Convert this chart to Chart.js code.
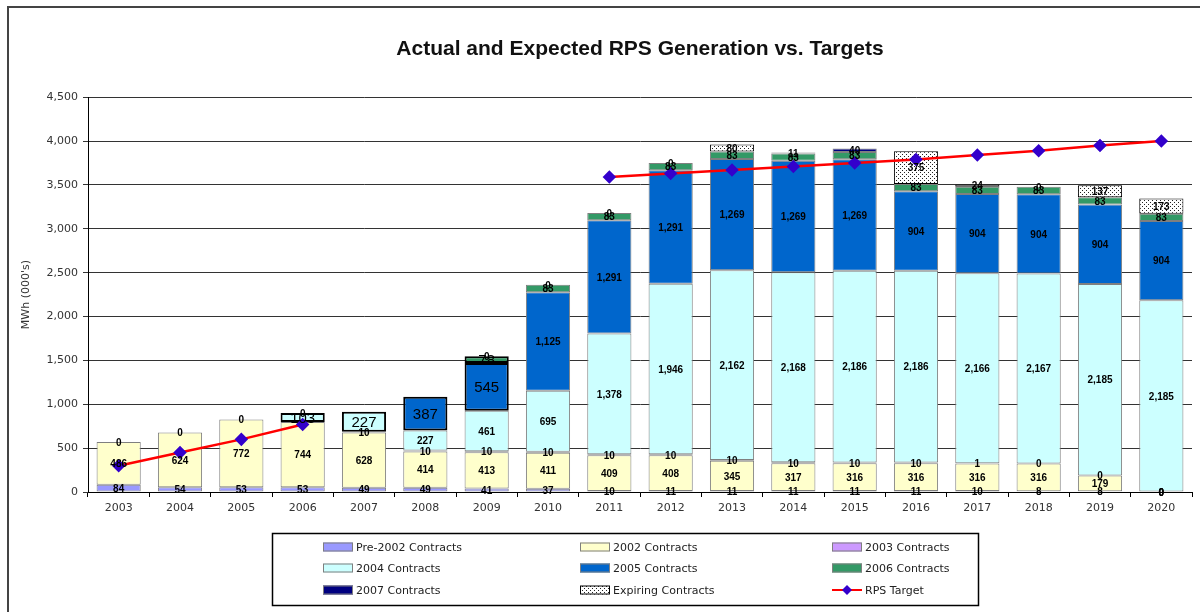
<!DOCTYPE html>
<html>
<head>
<meta charset="utf-8">
<script src="https://cdn.jsdelivr.net/npm/chart.js@4.4.0/dist/chart.umd.min.js"></script>
<style>
  html, body { margin: 0; padding: 0; background: #fff; }
  #wrap { width: 1200px; height: 612px; position: relative; }
</style>
</head>
<body>
<div id="wrap"><canvas id="canvas1"></canvas></div>
<script>
const years = ['2003', '2004', '2005', '2006', '2007', '2008', '2009', '2010', '2011',
  '2012', '2013', '2014', '2015', '2016', '2017', '2018', '2019', '2020'];

const pre2002 = [84, 54, 53, 53, 49, 49, 41, 37, 10, 11, 11, 11, 11, 11, 10, 8, 8, 0];
const c2002 = [486, 624, 772, 744, 628, 414, 413, 411, 409, 408, 345, 317, 316, 316, 316, 316, 179, 0];
const c2003 = [0, 0, 0, null, 10, 10, 10, 10, 10, 10, 10, 10, 10, 10, 1, 0, 0, 0];
const c2004 = [null, null, null, 103, 227, 227, 461, 695, 1378, 1946, 2162, 2168, 2186, 2186, 2166, 2167, 2185, 2185];
const c2005 = [null, null, null, 0, null, 387, 545, 1125, 1291, 1291, 1269, 1269, 1269, 904, 904, 904, 904, 904];
const c2006 = [null, null, null, null, null, null, 78, 83, 83, 83, 83, 83, 83, 83, 83, 83, 83, 83];
const c2007 = [null, null, null, null, null, null, 0, 0, 0, 0, null, 11, 40, null, null, null, null, null];
const expiring = [null, null, null, null, null, null, null, null, null, null, 80, null, null, 375, 24, 0, 137, 173];
const rpsTarget = [300, 450, 600, 770, null, null, null, null, 3590, 3630, 3670, 3710, 3750, 3790, 3840, 3890, 3950, 4000];

const yTicks = [0, 500, 1000, 1500, 2000, 2500, 3000, 3500, 4000, 4500];

const FONT = 'Liberation Sans, Arial, sans-serif';
const AXFONT = 'DejaVu Sans, Verdana, sans-serif';

// white with small black dots for the expiring contracts
function dotPattern() {
    let p = document.createElement('canvas');
    p.width = 4;
    p.height = 4;
    let g = p.getContext('2d');
    g.fillStyle = '#fff';
    g.fillRect(0, 0, 4, 4);
    g.fillStyle = '#222';
    g.fillRect(0, 0, 1, 1);
    g.fillRect(2, 2, 1, 1);
    return g.createPattern(p, 'repeat');
}

function barSet(label, data, color, boxed) {
    boxed = boxed || [];
    return {
        type: 'bar',
        label: label,
        data: data,
        backgroundColor: color,
        borderColor: ctx => boxed.includes(ctx.dataIndex) ? '#000' : '#7f7f7f',
        borderWidth: ctx => boxed.includes(ctx.dataIndex) ? 2 : 1,
        borderSkipped: false,
        stack: 'contracts',
        order: 2,
        boxed: boxed,
        barPercentage: 0.72,
        categoryPercentage: 1.0
    };
}

const datasets = [
    barSet('Pre-2002 Contracts', pre2002, '#9999FF'),
    barSet('2002 Contracts', c2002, '#FFFFCC'),
    barSet('2003 Contracts', c2003, '#CC99FF'),
    barSet('2004 Contracts', c2004, '#CCFFFF', [3, 4]),
    barSet('2005 Contracts', c2005, '#0066CC', [5, 6]),
    barSet('2006 Contracts', c2006, '#339966', [6]),
    barSet('2007 Contracts', c2007, '#000080'),
    barSet('Expiring Contracts', expiring, dotPattern()),
    {
        type: 'line',
        label: 'RPS Target',
        data: rpsTarget,
        borderColor: '#FF0000',
        borderWidth: 2.5,
        pointStyle: 'rectRot',
        pointRadius: 5,
        pointBackgroundColor: '#3300CC',
        pointBorderColor: '#3300CC',
        spanGaps: false,
        stack: 'target',
        order: 0
    }
];
datasets[7].borderColor = '#000';

const fmt = v => Number(v).toLocaleString('en-US');

// value labels inside each bar segment
const segLabels = {
    id: 'segLabels',
    afterDatasetsDraw(chart) {
        let g = chart.ctx;
        g.save();
        g.textAlign = 'center';
        g.textBaseline = 'middle';
        chart.data.datasets.forEach((ds, i) => {
            if (ds.type !== 'bar') return;
            let meta = chart.getDatasetMeta(i);
            meta.data.forEach((el, j) => {
                let v = ds.data[j];
                if (v === null || v === undefined) return;
                let big = ds.boxed.includes(j);
                g.font = big ? '15px ' + FONT : 'bold 10px ' + FONT;
                g.fillStyle = '#000';
                g.fillText(fmt(v), el.x, (el.y + el.base) / 2 + 1);
            });
        });
        g.restore();
    }
};

// frame and boxed legend like the spreadsheet chart
const frameLegend = {
    id: 'frameLegend',
    beforeDraw(chart) {
        let g = chart.ctx;
        g.save();
        g.fillStyle = '#fff';
        g.fillRect(0, 0, chart.width, chart.height);
        g.strokeStyle = '#444';
        g.lineWidth = 2;
        g.strokeRect(8, 7, chart.width + 20, chart.height + 20);
        g.restore();
    },
    afterDraw(chart) {
        let g = chart.ctx;
        g.save();
        g.strokeStyle = '#000';
        g.lineWidth = 1.5;
        g.strokeRect(272.5, 533.5, 706, 72);
        let cols = [323, 580, 832];
        let rows = [547, 568, 590];
        g.font = '11px ' + AXFONT;
        g.textBaseline = 'middle';
        g.textAlign = 'left';
        chart.data.datasets.forEach((ds, i) => {
            let x = cols[i % 3];
            let y = rows[Math.floor(i / 3)];
            if (ds.type === 'line') {
                g.strokeStyle = ds.borderColor;
                g.lineWidth = 2;
                g.beginPath();
                g.moveTo(x, y);
                g.lineTo(x + 30, y);
                g.stroke();
                g.fillStyle = ds.pointBackgroundColor;
                g.beginPath();
                g.moveTo(x + 15, y - 5);
                g.lineTo(x + 20, y);
                g.lineTo(x + 15, y + 5);
                g.lineTo(x + 10, y);
                g.closePath();
                g.fill();
            } else {
                g.fillStyle = ds.backgroundColor;
                g.fillRect(x, y - 4.5, 30, 9);
                g.strokeStyle = i === 7 ? '#000' : '#7f7f7f';
                g.lineWidth = 1;
                g.strokeRect(x + 0.5, y - 4, 29, 8);
            }
            g.fillStyle = '#222';
            g.fillText(ds.label, x + 33, y + 1);
        });
        g.restore();
    }
};

const ctx = document.getElementById('canvas1');
ctx.width = 1200;
ctx.height = 612;

const rpsChart = new Chart(ctx, {
    data: {
        labels: years,
        datasets: datasets
    },
    options: {
        responsive: false,
        animation: false,
        layout: { padding: { left: 0, right: 8, top: 0, bottom: 90 } },
        plugins: {
            legend: { display: false },
            tooltip: { enabled: false },
            title: {
                display: true,
                fullSize: false,
                text: 'Actual and Expected RPS Generation vs. Targets',
                color: '#111',
                font: { family: FONT, size: 21, weight: 'bold' },
                padding: { top: 37, bottom: 35 }
            }
        },
        scales: {
            x: {
                stacked: true,
                grid: { offset: true, drawOnChartArea: false, drawTicks: true, tickLength: 5, color: '#000' },
                border: { display: true, color: '#000', width: 1 },
                ticks: { color: '#333', font: { family: AXFONT, size: 11 }, padding: 5, maxRotation: 0 },
                afterFit: s => { s.height = 30; }
            },
            y: {
                stacked: true,
                min: 0,
                max: 4500,
                afterBuildTicks: s => { s.ticks = yTicks.map(v => ({ value: v })); },
                ticks: {
                    color: '#333',
                    font: { family: AXFONT, size: 11 },
                    padding: 5,
                    callback: v => fmt(v)
                },
                grid: { color: '#333', lineWidth: 1, tickLength: 5 },
                border: { display: true, color: '#000', width: 1 },
                title: {
                    display: true,
                    text: "MWh (000's)",
                    color: '#333',
                    font: { family: AXFONT, size: 11 },
                    padding: { top: 20, bottom: 0 }
                },
                afterFit: s => { s.width = 88; }
            }
        }
    },
    plugins: [frameLegend, segLabels]
});
</script>
</body>
</html>
